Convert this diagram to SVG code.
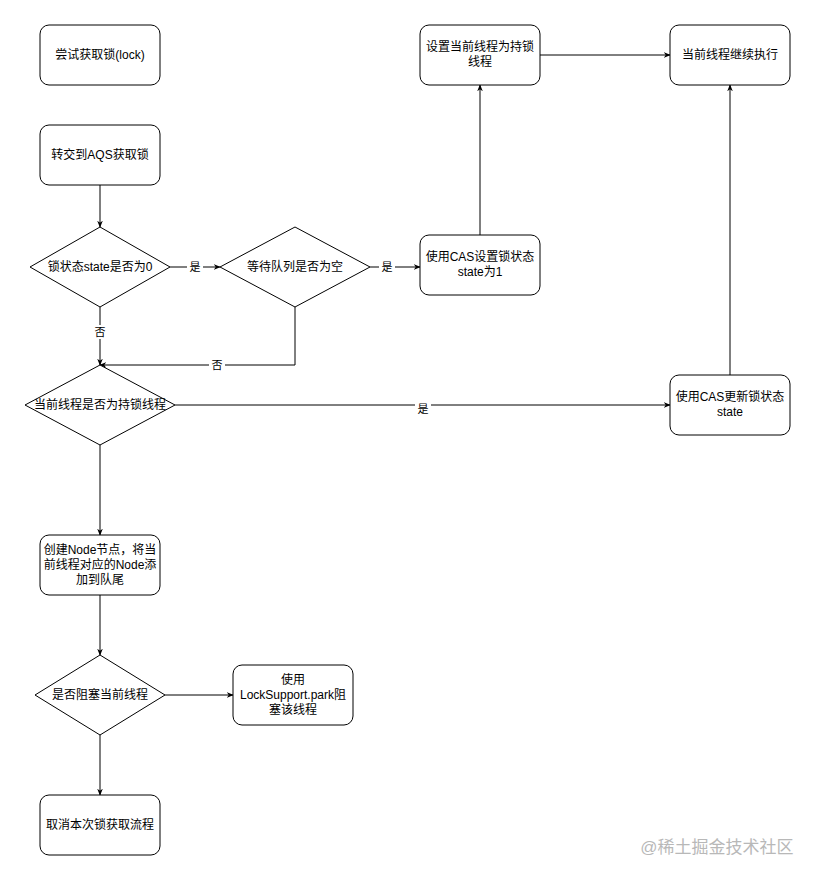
<svg xmlns="http://www.w3.org/2000/svg" width="816" height="881" viewBox="0 0 816 881">
<style>
.n{fill:#fff;stroke:#000;stroke-width:1}
.t{font-family:"Liberation Sans","Noto Sans CJK SC",sans-serif;font-size:12px;fill:#000;text-anchor:middle}
.l{font-family:"Liberation Sans","Noto Sans CJK SC",sans-serif;font-size:11px;fill:#000;text-anchor:middle}
.e{fill:none;stroke:#000;stroke-width:1;marker-end:url(#a)}
</style>
<defs><marker id="a" viewBox="0 0 10 10" refX="9" refY="5" markerWidth="7" markerHeight="7" orient="auto"><path d="M0,1 L10,5 L0,9 L3,5 Z" fill="#000"/></marker></defs>
<rect width="816" height="881" fill="#fff"/>
<g id="edges">
<path class="e" d="M100,185V227"/>
<path class="e" d="M170,267H220"/>
<path class="e" d="M370,267H420"/>
<path class="e" d="M100,307V365"/>
<path class="e" d="M295,307V365H100"/>
<path class="e" d="M480,235V85"/>
<path class="e" d="M540,55H670"/>
<path class="e" d="M175,405H670"/>
<path class="e" d="M730,375V85"/>
<path class="e" d="M100,445V535"/>
<path class="e" d="M100,595V655"/>
<path class="e" d="M165,695H233"/>
<path class="e" d="M100,735V795"/>
<rect x="187" y="260" width="16" height="14" fill="#fff"/><text class="l" x="195" y="271">是</text>
<rect x="379" y="260" width="16" height="14" fill="#fff"/><text class="l" x="387" y="271">是</text>
<rect x="92" y="325" width="16" height="14" fill="#fff"/><text class="l" x="100" y="336">否</text>
<rect x="209" y="358" width="16" height="14" fill="#fff"/><text class="l" x="217" y="369">否</text>
<rect x="415" y="398" width="16" height="14" fill="#fff"/><text class="l" x="423" y="413">是</text>
</g>
<g id="n1"><rect class="n" x="40" y="25" width="120" height="60" rx="9"/><text class="t" x="100" y="59">尝试获取锁(lock)</text></g>
<g id="n2"><rect class="n" x="40" y="125" width="120" height="60" rx="9"/><text class="t" x="100" y="159">转交到AQS获取锁</text></g>
<g id="n3"><path class="n" d="M100,227L170,267L100,307L30,267Z"/><text class="t" x="100" y="271">锁状态state是否为0</text></g>
<g id="n4"><path class="n" d="M295,227L370,267L295,307L220,267Z"/><text class="t" x="295" y="271">等待队列是否为空</text></g>
<g id="n5"><rect class="n" x="420" y="235" width="120" height="60" rx="9"/><text class="t" x="480" y="261">使用CAS设置锁状态</text><text class="t" x="480" y="276">state为1</text></g>
<g id="n6"><rect class="n" x="420" y="25" width="120" height="60" rx="9"/><text class="t" x="480" y="51">设置当前线程为持锁</text><text class="t" x="480" y="66">线程</text></g>
<g id="n7"><rect class="n" x="670" y="25" width="120" height="60" rx="9"/><text class="t" x="730" y="59">当前线程继续执行</text></g>
<g id="n8"><path class="n" d="M100,365L175,405L100,445L25,405Z"/><text class="t" x="100" y="409">当前线程是否为持锁线程</text></g>
<g id="n9"><rect class="n" x="670" y="375" width="120" height="60" rx="9"/><text class="t" x="730" y="401">使用CAS更新锁状态</text><text class="t" x="730" y="416">state</text></g>
<g id="n10"><rect class="n" x="40" y="535" width="120" height="60" rx="9"/><text class="t" x="100" y="554">创建Node节点，将当</text><text class="t" x="100" y="569">前线程对应的Node添</text><text class="t" x="100" y="584">加到队尾</text></g>
<g id="n11"><path class="n" d="M100,655L165,695L100,735L35,695Z"/><text class="t" x="100" y="699">是否阻塞当前线程</text></g>
<g id="n12"><rect class="n" x="233" y="665" width="120" height="60" rx="9"/><text class="t" x="293" y="684">使用</text><text class="t" x="293" y="699">LockSupport.park阻</text><text class="t" x="293" y="714">塞该线程</text></g>
<g id="n13"><rect class="n" x="40" y="795" width="120" height="60" rx="9"/><text class="t" x="100" y="829">取消本次锁获取流程</text></g>
<text x="717" y="853" font-family="Liberation Sans,Noto Sans CJK SC,sans-serif" font-size="17" fill="#b8b8b8" text-anchor="middle">@稀土掘金技术社区</text>
</svg>
